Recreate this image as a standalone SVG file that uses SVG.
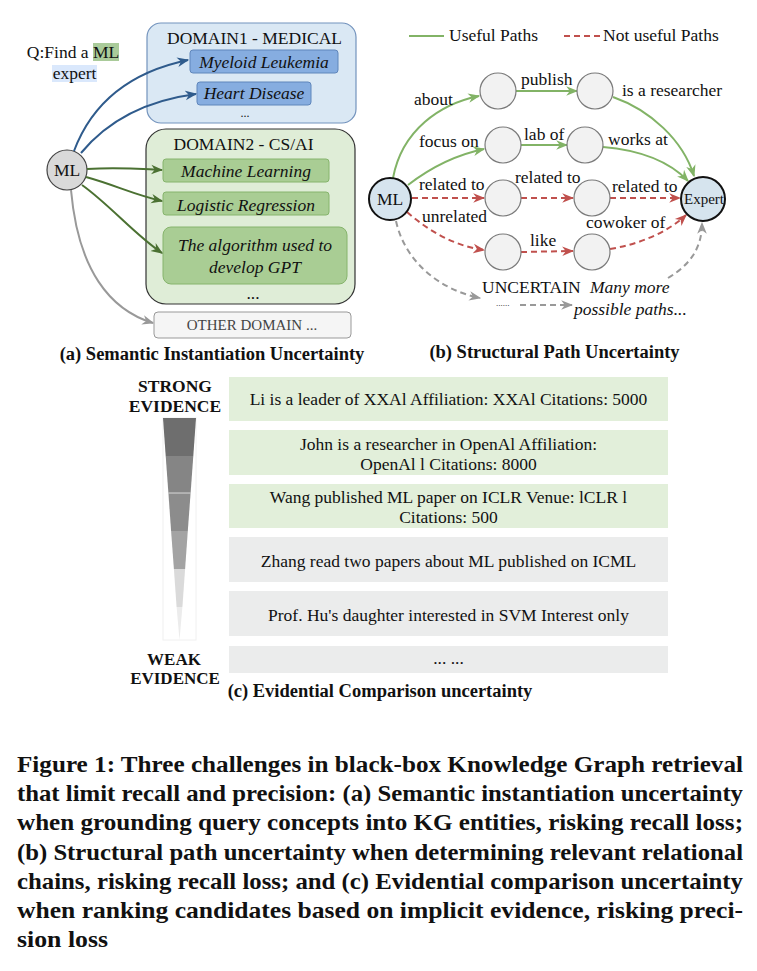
<svg xmlns="http://www.w3.org/2000/svg" width="757" height="971" viewBox="0 0 757 971">
<style>
text{font-family:"Liberation Serif","Times New Roman",serif;font-size:17.5px;fill:#111}
.it{font-style:italic}
.b{font-weight:bold}
.m{text-anchor:middle}
.cap{font-weight:bold;font-size:18.5px}
.fig{font-weight:bold;font-size:24px}
.node{fill:#f2f2f2;stroke:#7a7a7a;stroke-width:1.2}
.key{fill:#d6e4ee;stroke:#111;stroke-width:2}
.eb{fill:none;stroke:#2f5b8c;stroke-width:2}
.eg{fill:none;stroke:#4b7132;stroke-width:2}
.ea{fill:none;stroke:#999;stroke-width:2}
.ug{fill:none;stroke:#82b366;stroke-width:2}
.ur{fill:none;stroke:#c0504d;stroke-width:2;stroke-dasharray:6 4}
.ud{fill:none;stroke:#999;stroke-width:2;stroke-dasharray:6 4}
.gbox{fill:#e2efda}
.ybox{fill:#ebecec}
</style>
<defs>
<marker id="mb" viewBox="0 0 10 10" refX="9" refY="5" markerWidth="12" markerHeight="12" markerUnits="userSpaceOnUse" orient="auto"><path d="M0,1 L10,5 L0,9 L3,5 z" fill="#2f5b8c"/></marker>
<marker id="mg" viewBox="0 0 10 10" refX="9" refY="5" markerWidth="12" markerHeight="12" markerUnits="userSpaceOnUse" orient="auto"><path d="M0,1 L10,5 L0,9 L3,5 z" fill="#4b7132"/></marker>
<marker id="ma" viewBox="0 0 10 10" refX="9" refY="5" markerWidth="12" markerHeight="12" markerUnits="userSpaceOnUse" orient="auto"><path d="M0,1 L10,5 L0,9 L3,5 z" fill="#999"/></marker>
<marker id="mug" viewBox="0 0 10 10" refX="9" refY="5" markerWidth="12" markerHeight="12" markerUnits="userSpaceOnUse" orient="auto"><path d="M0,1 L10,5 L0,9 L3,5 z" fill="#82b366"/></marker>
<marker id="mur" viewBox="0 0 10 10" refX="9" refY="5" markerWidth="12" markerHeight="12" markerUnits="userSpaceOnUse" orient="auto"><path d="M0,1 L10,5 L0,9 L3,5 z" fill="#c0504d"/></marker>
</defs>
<rect width="757" height="971" fill="#fff"/>

<!-- Panel (a) -->
<g id="query">
<rect x="93" y="43" width="26" height="18" fill="#aacb9a"/>
<rect x="52" y="65" width="45" height="17" fill="#dae8fc"/>
<text x="73" y="58" class="m">Q:Find a ML</text>
<text x="74.5" y="79" class="m">expert</text>
</g>
<g id="domain1">
<rect x="147" y="23" width="209" height="100" rx="14" fill="#dae8f4" stroke="#7393bd" stroke-width="1.2"/>
<text x="254.5" y="44" class="m">DOMAIN1 - MEDICAL</text>
</g>
<g id="myeloid">
<rect x="190" y="50" width="148" height="23" rx="3" fill="#86ade0" stroke="#5f86bb"/>
<text x="264" y="68" class="m it">Myeloid Leukemia</text>
</g>
<g id="heart">
<rect x="197" y="82" width="114" height="23" rx="3" fill="#86ade0" stroke="#5f86bb"/>
<text x="254" y="99" class="m it">Heart Disease</text>
</g>
<text x="245" y="117" class="m" style="font-size:12px">...</text>
<g id="domain2">
<rect x="146" y="129" width="209" height="175" rx="20" fill="#dfedd7" stroke="#333" stroke-width="1.2"/>
<text x="243.5" y="150" class="m">DOMAIN2 - CS/AI</text>
</g>
<g id="ml-concept">
<rect x="163" y="159" width="166" height="23" rx="3" fill="#a9cd94" stroke="#86b46c"/>
<text x="246" y="177" class="m it">Machine Learning</text>
</g>
<g id="logistic">
<rect x="163" y="192" width="166" height="23" rx="3" fill="#a9cd94" stroke="#86b46c"/>
<text x="246" y="211" class="m it">Logistic Regression</text>
</g>
<g id="algorithm">
<rect x="163" y="227" width="184" height="57" rx="8" fill="#a9cd94" stroke="#86b46c"/>
<text x="255" y="251" class="m it">The algorithm used to</text>
<text x="255" y="273" class="m it">develop GPT</text>
</g>
<text x="253" y="299" class="m">...</text>
<g id="other">
<rect x="154" y="312" width="197" height="26" rx="4" fill="#f5f5f5" stroke="#999"/>
<text x="252" y="330" class="m" style="font-size:15px;fill:#444">OTHER DOMAIN ...</text>
</g>
<g id="ml-a">
<circle cx="67" cy="170" r="20" fill="#d9d9d9" stroke="#444" stroke-width="1.2"/>
<text x="67" y="176" class="m">ML</text>
</g>
<g id="edges-a">
<path class="eb" d="M74,151 C95,95 140,70 188,60" marker-end="url(#mb)"/>
<path class="eb" d="M81,153 C110,118 150,100 196,94" marker-end="url(#mb)"/>
<path class="eg" d="M87,169 C120,167 140,169 162,170" marker-end="url(#mg)"/>
<path class="eg" d="M86,177 C115,185 135,195 162,201" marker-end="url(#mg)"/>
<path class="eg" d="M82,185 C110,205 135,235 162,253" marker-end="url(#mg)"/>
<path class="ea" d="M71,190 C78,270 110,310 153,323" marker-end="url(#ma)"/>
</g>
<text x="212" y="360" class="m cap">(a) Semantic Instantiation Uncertainty</text>

<!-- Panel (b) -->
<g id="legend">
<line x1="409" y1="36" x2="444" y2="36" stroke="#82b366" stroke-width="2"/>
<text x="449" y="41">Useful Paths</text>
<line x1="564" y1="36" x2="600" y2="36" stroke="#c0504d" stroke-width="2" stroke-dasharray="6 4"/>
<text x="603" y="41">Not useful Paths</text>
</g>
<g id="edges-b">
<path class="ug" d="M393,178 C402,130 440,104 479,96" marker-end="url(#mug)"/>
<path class="ug" d="M516,91 L577,91" marker-end="url(#mug)"/>
<path class="ug" d="M613,97 C650,110 683,140 694,176" marker-end="url(#mug)"/>
<path class="ug" d="M408,185 C430,168 455,155 484,149" marker-end="url(#mug)"/>
<path class="ug" d="M521,145 L567,145" marker-end="url(#mug)"/>
<path class="ug" d="M603,147 C640,150 670,162 688,181" marker-end="url(#mug)"/>
<path class="ur" d="M412,198 L484,198" marker-end="url(#mur)"/>
<path class="ur" d="M521,198 L573,198" marker-end="url(#mur)"/>
<path class="ur" d="M610,198 L680,198" marker-end="url(#mur)"/>
<path class="ur" d="M407,212 C430,232 455,246 484,250" marker-end="url(#mur)"/>
<path class="ur" d="M521,252 L573,251" marker-end="url(#mur)"/>
<path class="ur" d="M610,249 C640,244 668,232 686,215" marker-end="url(#mur)"/>
<path class="ud" d="M396,221 C405,262 440,290 480,298" marker-end="url(#ma)"/>
<path class="ud" d="M520,305 L572,305" marker-end="url(#ma)"/>
<path class="ud" d="M668,278 C690,265 702,248 702,223" marker-end="url(#ma)"/>
</g>
<g id="n-a"><circle class="node" cx="498" cy="91" r="18"/></g>
<g id="n-b"><circle class="node" cx="595" cy="91" r="18"/></g>
<g id="n-c"><circle class="node" cx="503" cy="145" r="18"/></g>
<g id="n-d"><circle class="node" cx="585" cy="145" r="18"/></g>
<g id="n-e"><circle class="node" cx="503" cy="198" r="18"/></g>
<g id="n-f"><circle class="node" cx="592" cy="198" r="18"/></g>
<g id="n-g"><circle class="node" cx="503" cy="252" r="18"/></g>
<g id="n-h"><circle class="node" cx="592" cy="252" r="18"/></g>
<g id="ml-b"><circle class="key" cx="390" cy="199" r="21"/><text x="390" y="205" class="m">ML</text></g>
<g id="expert"><circle class="key" cx="703" cy="199" r="22"/><text x="704" y="204" class="m" style="font-size:15px">Expert</text></g>
<g id="labels-b">
<text x="414" y="105">about</text>
<text x="521" y="85">publish</text>
<text x="622" y="96">is a researcher</text>
<text x="419" y="147">focus on</text>
<text x="524" y="140">lab of</text>
<text x="608" y="145">works at</text>
<text x="419" y="190">related to</text>
<text x="515" y="183">related to</text>
<text x="612" y="192">related to</text>
<text x="422" y="222">unrelated</text>
<text x="530" y="246">like</text>
<text x="586" y="228">cowoker of</text>
<text x="482" y="293">UNCERTAIN</text>
<text x="590" y="293" class="it">Many more</text>
<text x="574" y="315" class="it">possible paths...</text>
<text x="496" y="306" style="font-size:9px">......</text>
</g>
<text x="554.5" y="358" class="m cap">(b) Structural Path Uncertainty</text>

<!-- Panel (c) -->
<g id="scale">
<text x="175" y="392" class="m b" style="font-size:17.5px">STRONG</text>
<text x="175" y="412" class="m b" style="font-size:17.5px">EVIDENCE</text>
<rect x="163" y="418" width="33" height="222" fill="none" stroke="#f0f0f0" stroke-width="1"/>
<polygon points="163,418 196,418 193.3,456 165.7,456" fill="#6e6e6e"/>
<polygon points="165.7,456 193.3,456 190.6,493 168.4,493" fill="#858585"/>
<polygon points="168.4,493 190.6,493 187.8,531 171.1,531" fill="#8c8c8c"/>
<polygon points="171.1,531 187.8,531 185.1,569 173.9,569" fill="#a3a3a3"/>
<polygon points="173.9,569 185.1,569 182.4,607 176.6,607" fill="#dadada"/>
<polygon points="176.6,607 182.4,607 179.5,640" fill="#ececec"/>
<line x1="168.4" y1="493" x2="190.6" y2="493" stroke="#eee" stroke-width="0.8"/>
<text x="174" y="665" class="m b" style="font-size:17px">WEAK</text>
<text x="175" y="684" class="m b" style="font-size:17px">EVIDENCE</text>
</g>
<g id="ev1"><rect class="gbox" x="229" y="377" width="439" height="44"/><text x="448.5" y="405" class="m">Li is a leader of XXAl Affiliation: XXAl Citations: 5000</text></g>
<g id="ev2"><rect class="gbox" x="229" y="430" width="439" height="45"/><text x="448.5" y="450" class="m">John is a researcher in OpenAl Affiliation:</text><text x="448.5" y="470" class="m">OpenAl l Citations: 8000</text></g>
<g id="ev3"><rect class="gbox" x="229" y="484" width="439" height="44"/><text x="448.5" y="503" class="m">Wang published ML paper on ICLR Venue: lCLR l</text><text x="448.5" y="523" class="m">Citations: 500</text></g>
<g id="ev4"><rect class="ybox" x="229" y="537" width="439" height="45"/><text x="448.5" y="567" class="m">Zhang read two papers about ML published on ICML</text></g>
<g id="ev5"><rect class="ybox" x="229" y="591" width="439" height="45"/><text x="448.5" y="621" class="m">Prof. Hu's daughter interested in SVM Interest only</text></g>
<g id="ev6"><rect class="ybox" x="229" y="646" width="439" height="27"/><text x="448.5" y="664" class="m">... ...</text></g>
<text x="380" y="697" class="m cap">(c) Evidential Comparison uncertainty</text>

<!-- Figure caption -->
<g id="caption">
<text x="17" y="772" class="fig" textLength="726" lengthAdjust="spacingAndGlyphs">Figure 1: Three challenges in black-box Knowledge Graph retrieval</text>
<text x="17" y="801" class="fig" textLength="726" lengthAdjust="spacingAndGlyphs">that limit recall and precision: (a) Semantic instantiation uncertainty</text>
<text x="17" y="830" class="fig" textLength="726" lengthAdjust="spacingAndGlyphs">when grounding query concepts into KG entities, risking recall loss;</text>
<text x="17" y="860" class="fig" textLength="726" lengthAdjust="spacingAndGlyphs">(b) Structural path uncertainty when determining relevant relational</text>
<text x="17" y="889" class="fig" textLength="726" lengthAdjust="spacingAndGlyphs">chains, risking recall loss; and (c) Evidential comparison uncertainty</text>
<text x="17" y="918" class="fig" textLength="726" lengthAdjust="spacingAndGlyphs">when ranking candidates based on implicit evidence, risking preci-</text>
<text x="17" y="947" class="fig" textLength="91" lengthAdjust="spacingAndGlyphs">sion loss</text>
</g>
</svg>
